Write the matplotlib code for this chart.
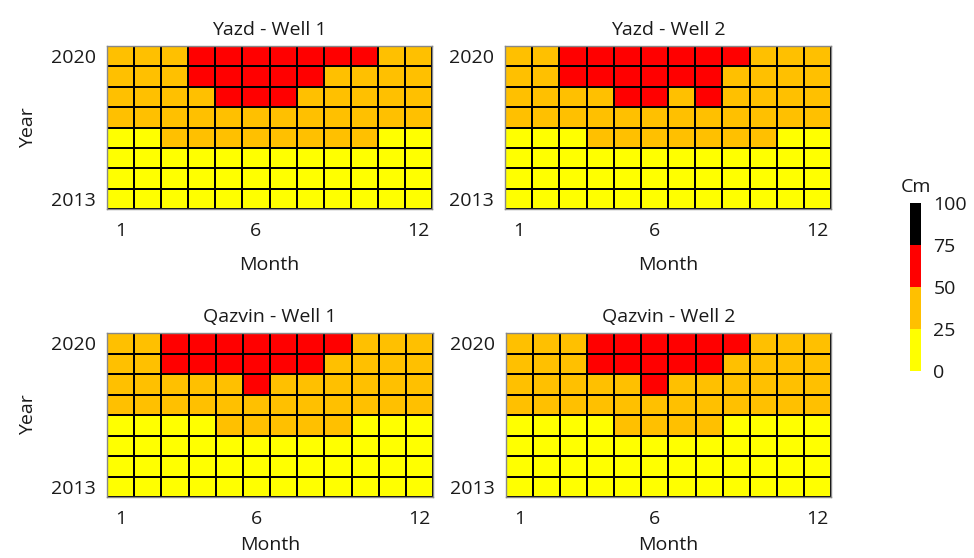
import matplotlib
matplotlib.use("Agg")
import matplotlib.pyplot as plt
from matplotlib.colors import ListedColormap, BoundaryNorm
import numpy as np

plt.rcParams['font.family'] = ['Open Sans', 'DejaVu Sans']

years = [2013, 2014, 2015, 2016, 2017, 2018, 2019, 2020]
months = list(range(1, 13))
titles = ["Yazd - Well 1", "Yazd - Well 2", "Qazvin - Well 1", "Qazvin - Well 2"]

# Depth class values (cm), rows from 2013 (first) to 2020 (last), columns month 1..12
yazd_w1 = [
    [12, 12, 12, 12, 12, 12, 12, 12, 12, 12, 12, 12],
    [12, 12, 12, 12, 12, 12, 12, 12, 12, 12, 12, 12],
    [12, 12, 12, 12, 12, 12, 12, 12, 12, 12, 12, 12],
    [12, 12, 37, 37, 37, 37, 37, 37, 37, 37, 12, 12],
    [37, 37, 37, 37, 37, 37, 37, 37, 37, 37, 37, 37],
    [37, 37, 37, 37, 62, 62, 62, 37, 37, 37, 37, 37],
    [37, 37, 37, 62, 62, 62, 62, 62, 37, 37, 37, 37],
    [37, 37, 37, 62, 62, 62, 62, 62, 62, 62, 37, 37],
]
yazd_w2 = [
    [12, 12, 12, 12, 12, 12, 12, 12, 12, 12, 12, 12],
    [12, 12, 12, 12, 12, 12, 12, 12, 12, 12, 12, 12],
    [12, 12, 12, 12, 12, 12, 12, 12, 12, 12, 12, 12],
    [12, 12, 12, 37, 37, 37, 37, 37, 37, 37, 12, 12],
    [37, 37, 37, 37, 37, 37, 37, 37, 37, 37, 37, 37],
    [37, 37, 37, 37, 62, 62, 37, 62, 37, 37, 37, 37],
    [37, 37, 62, 62, 62, 62, 62, 62, 37, 37, 37, 37],
    [37, 37, 62, 62, 62, 62, 62, 62, 62, 37, 37, 37],
]
qazvin_w1 = [
    [12, 12, 12, 12, 12, 12, 12, 12, 12, 12, 12, 12],
    [12, 12, 12, 12, 12, 12, 12, 12, 12, 12, 12, 12],
    [12, 12, 12, 12, 12, 12, 12, 12, 12, 12, 12, 12],
    [12, 12, 12, 12, 37, 37, 37, 37, 37, 12, 12, 12],
    [37, 37, 37, 37, 37, 37, 37, 37, 37, 37, 37, 37],
    [37, 37, 37, 37, 37, 62, 37, 37, 37, 37, 37, 37],
    [37, 37, 62, 62, 62, 62, 62, 62, 37, 37, 37, 37],
    [37, 37, 62, 62, 62, 62, 62, 62, 62, 37, 37, 37],
]
qazvin_w2 = [
    [12, 12, 12, 12, 12, 12, 12, 12, 12, 12, 12, 12],
    [12, 12, 12, 12, 12, 12, 12, 12, 12, 12, 12, 12],
    [12, 12, 12, 12, 12, 12, 12, 12, 12, 12, 12, 12],
    [12, 12, 12, 12, 37, 37, 37, 37, 12, 12, 12, 12],
    [37, 37, 37, 37, 37, 37, 37, 37, 37, 37, 37, 37],
    [37, 37, 37, 37, 37, 62, 37, 37, 37, 37, 37, 37],
    [37, 37, 37, 62, 62, 62, 62, 62, 37, 37, 37, 37],
    [37, 37, 37, 62, 62, 62, 62, 62, 62, 37, 37, 37],
]
panels = [yazd_w1, yazd_w2, qazvin_w1, qazvin_w2]

bounds = [0, 25, 50, 75, 100]
colors = ["#FFFF00", "#FFC000", "#FF0000", "#000000"]
cmap = ListedColormap(colors)
norm = BoundaryNorm(bounds, cmap.N)

W, H = 974, 558
fig = plt.figure(figsize=(W / 100, H / 100), dpi=100)

def px_axes(l, t, r, b):
    return fig.add_axes([l / W, 1 - b / H, (r - l) / W, (b - t) / H])

boxes = [(107, 46, 432, 209), (505, 46, 831, 209),
         (107, 333, 433, 497), (506, 333, 831, 497)]

fs = 14
tc = "#1a1a1a"
for i, (data, title, box) in enumerate(zip(panels, titles, boxes)):
    ax = px_axes(*box)
    arr = np.array(data)
    xe = np.arange(len(months) + 1) + 0.5
    ye = np.arange(len(years) + 1) + years[0] - 0.5
    ax.pcolormesh(xe, ye, arr, cmap=cmap, norm=norm, edgecolors="black", linewidth=1.3)
    ax.set_xlim(xe[0], xe[-1])
    ax.set_ylim(ye[0], ye[-1])
    ax.set_xticks([1, 6, 12])
    ax.set_xticklabels(["1", "6", "12"], fontsize=fs)
    ax.set_yticks([years[0], years[-1]])
    ax.set_yticklabels([str(years[0]), str(years[-1])], fontsize=fs)
    ax.tick_params(axis="x", length=0, pad=9, colors=tc)
    ax.tick_params(axis="y", length=0, pad=8, colors=tc)
    for s in ax.spines.values():
        s.set_color("#888888")
        s.set_linewidth(1.0)
    ax.set_title(title, fontsize=fs, pad=8, color=tc)
    ax.set_xlabel("Month", fontsize=fs, labelpad=(12 if i < 2 else 6), color=tc)
    if i % 2 == 0:
        ax.set_ylabel("Year", fontsize=fs, labelpad=10, color=tc)

cax = px_axes(910, 203, 921, 371)
sm = matplotlib.cm.ScalarMappable(cmap=cmap, norm=norm)
cb = fig.colorbar(sm, cax=cax, ticks=bounds)
cb.outline.set_visible(False)
cb.ax.tick_params(length=0, pad=9, labelsize=fs, colors=tc)
cb.ax.set_title("Cm", fontsize=fs, pad=8, color=tc)

fig.savefig("out.png", dpi=100)
